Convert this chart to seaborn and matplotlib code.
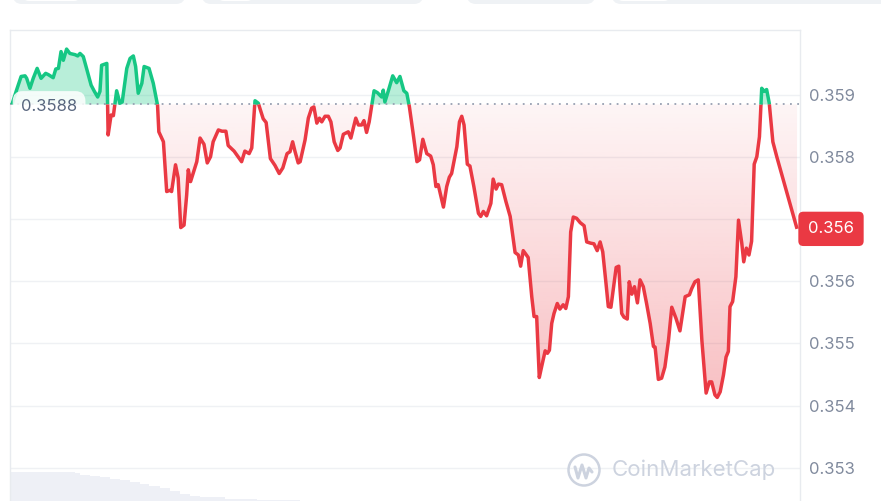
import numpy as np
import matplotlib
matplotlib.use("Agg")
import matplotlib.pyplot as plt
import seaborn as sns
import matplotlib.transforms as mtransforms
from matplotlib.colors import LinearSegmentedColormap, to_rgb
from matplotlib.patches import FancyBboxPatch, Circle
from matplotlib.path import Path
from matplotlib.lines import Line2D

# ---------------- data ----------------
hours = [
    0.00, 0.14, 0.28, 0.40, 0.45, 0.55, 0.65, 0.77, 0.89, 1.03,
    1.11, 1.26, 1.34, 1.42, 1.50, 1.57, 1.67, 1.77, 1.93, 2.01,
    2.08, 2.18, 2.28, 2.42, 2.52, 2.62, 2.69, 2.74, 2.90, 2.94,
    3.03, 3.10, 3.20, 3.30, 3.37, 3.51, 3.61, 3.71, 3.78, 3.86,
    3.97, 4.04, 4.19, 4.32, 4.45, 4.49, 4.63, 4.73, 4.83, 4.88,
    5.00, 5.08, 5.16, 5.26, 5.34, 5.39, 5.46, 5.65, 5.75, 5.87,
    5.97, 6.07, 6.15, 6.31, 6.42, 6.54, 6.61, 6.79, 7.02, 7.12,
    7.25, 7.33, 7.43, 7.53, 7.68, 7.77, 7.90, 8.04, 8.17, 8.28,
    8.41, 8.50, 8.58, 8.65, 8.75, 8.81, 8.96, 9.06, 9.16, 9.23,
    9.32, 9.40, 9.47, 9.57, 9.67, 9.75, 9.85, 9.96, 10.03, 10.13,
    10.28, 10.36, 10.51, 10.59, 10.69, 10.76, 10.84, 10.92, 11.00, 11.07,
    11.17, 11.30, 11.35, 11.40, 11.50, 11.64, 11.76, 11.86, 11.98, 12.07,
    12.15, 12.27, 12.38, 12.46, 12.56, 12.68, 12.80, 12.88, 12.96, 13.03,
    13.19, 13.29, 13.37, 13.44, 13.60, 13.68, 13.75, 13.82, 13.92, 14.00,
    14.12, 14.26, 14.33, 14.41, 14.51, 14.64, 14.71, 14.80, 14.87, 14.97,
    15.10, 15.23, 15.38, 15.48, 15.55, 15.63, 15.78, 15.89, 15.96, 16.04,
    16.12, 16.19, 16.30, 16.37, 16.43, 16.50, 16.57, 16.67, 16.75, 16.85,
    16.93, 17.01, 17.08, 17.16, 17.26, 17.37, 17.49, 17.57, 17.69, 17.79,
    17.89, 17.98, 18.06, 18.16, 18.23, 18.31, 18.38, 18.47, 18.55, 18.59,
    18.64, 18.71, 18.81, 18.87, 18.95, 19.03, 19.12, 19.20, 19.30, 19.40,
    19.51, 19.61, 19.66, 19.76, 19.86, 19.96, 20.07, 20.17, 20.30, 20.42,
    20.58, 20.71, 20.78, 20.88, 20.98, 21.09, 21.22, 21.32, 21.39, 21.49,
    21.56, 21.65, 21.75, 21.83, 21.90, 21.95, 22.03, 22.13, 22.21, 22.31,
    22.37, 22.45, 22.53, 22.61, 22.69, 22.77, 22.85, 22.92, 22.99, 23.07,
    23.15, 23.26, 23.38, 24.00,
]

prices = [
    0.35884, 0.35907, 0.35929, 0.35930, 0.35926, 0.35910, 0.35926, 0.35942, 0.35926, 0.35934,
    0.35932, 0.35927, 0.35941, 0.35942, 0.35969, 0.35955, 0.35973, 0.35966, 0.35964, 0.35962,
    0.35966, 0.35961, 0.35942, 0.35915, 0.35905, 0.35896, 0.35905, 0.35947, 0.35950, 0.35835,
    0.35867, 0.35866, 0.35906, 0.35886, 0.35888, 0.35942, 0.35958, 0.35962, 0.35945, 0.35902,
    0.35918, 0.35945, 0.35942, 0.35918, 0.35883, 0.35840, 0.35824, 0.35744, 0.35746, 0.35744,
    0.35787, 0.35766, 0.35686, 0.35690, 0.35738, 0.35779, 0.35760, 0.35792, 0.35830, 0.35820,
    0.35790, 0.35800, 0.35824, 0.35843, 0.35841, 0.35841, 0.35818, 0.35809, 0.35792, 0.35809,
    0.35805, 0.35814, 0.35890, 0.35886, 0.35861, 0.35855, 0.35797, 0.35786, 0.35773, 0.35782,
    0.35805, 0.35808, 0.35824, 0.35809, 0.35790, 0.35792, 0.35827, 0.35862, 0.35878, 0.35880,
    0.35854, 0.35862, 0.35856, 0.35865, 0.35865, 0.35856, 0.35824, 0.35810, 0.35814, 0.35836,
    0.35840, 0.35830, 0.35862, 0.35851, 0.35851, 0.35858, 0.35839, 0.35856, 0.35883, 0.35906,
    0.35903, 0.35896, 0.35907, 0.35888, 0.35905, 0.35930, 0.35919, 0.35929, 0.35906, 0.35902,
    0.35880, 0.35835, 0.35792, 0.35795, 0.35828, 0.35805, 0.35801, 0.35787, 0.35752, 0.35755,
    0.35719, 0.35752, 0.35767, 0.35773, 0.35816, 0.35856, 0.35865, 0.35851, 0.35788, 0.35785,
    0.35752, 0.35709, 0.35704, 0.35712, 0.35705, 0.35725, 0.35764, 0.35748, 0.35756, 0.35755,
    0.35728, 0.35704, 0.35646, 0.35642, 0.35624, 0.35649, 0.35638, 0.35575, 0.35543, 0.35543,
    0.35445, 0.35462, 0.35488, 0.35484, 0.35489, 0.35532, 0.35548, 0.35564, 0.35555, 0.35562,
    0.35556, 0.35575, 0.35679, 0.35703, 0.35701, 0.35694, 0.35689, 0.35663, 0.35661, 0.35660,
    0.35649, 0.35663, 0.35647, 0.35596, 0.35559, 0.35558, 0.35586, 0.35622, 0.35624, 0.35586,
    0.35548, 0.35542, 0.35539, 0.35599, 0.35579, 0.35591, 0.35565, 0.35602, 0.35591, 0.35564,
    0.35532, 0.35495, 0.35494, 0.35442, 0.35444, 0.35462, 0.35505, 0.35558, 0.35540, 0.35520,
    0.35575, 0.35578, 0.35588, 0.35599, 0.35602, 0.35505, 0.35420, 0.35438, 0.35438, 0.35417,
    0.35413, 0.35422, 0.35449, 0.35478, 0.35487, 0.35559, 0.35567, 0.35607, 0.35698, 0.35661,
    0.35631, 0.35653, 0.35642, 0.35664, 0.35788, 0.35800, 0.35832, 0.35910, 0.35905, 0.35908,
    0.35886, 0.35824, 0.35800, 0.35684,
]

open_price = 0.35884
open_label = "0.3588"
last_label = "0.356"

tick_values = [0.353, 0.354, 0.355, 0.356, 0.357, 0.358, 0.359]
tick_labels = ["0.353", "0.354", "0.355", "0.356", "", "0.358", "0.359"]

vol_hours = [-0.06, 1.93, 2.08, 2.40, 2.69, 3.00, 3.30, 3.60, 3.91, 4.20,
             4.52, 4.83, 5.14, 5.45, 5.75, 6.50, 7.50, 8.81]
vol_values = [29, 28, 26, 25, 24, 22, 21, 19, 17, 15,
              13, 10, 7, 5, 4, 2, 1, 0]

watermark = "CoinMarketCap"

# ---------------- style ----------------
GREEN = "#16c784"
RED = "#ea3943"
TEXT = "#58667e"
TICK = "#808a9d"
GRID = "#eff1f4"
FRAME = "#e8ebef"

sns.set_theme(style="white")
plt.rcParams["font.family"] = ["Inter", "DejaVu Sans"]

W, H = 881, 501
fig = plt.figure(figsize=(W / 100, H / 100), dpi=100)
fig.patch.set_facecolor("white")

L_px, R_px, T_px = 10, 800, 30
xmin, xmax = -0.06, 24.09
ymin, ymax = 0.352465, 0.360037

# volume strip
ax_vol = fig.add_axes([L_px / W, 0, (R_px - L_px) / W, 40 / H], zorder=0)
ax_vol.fill_between(vol_hours, vol_values, step="post", color="#eef0f6", lw=0)
ax_vol.set_xlim(xmin, xmax)
ax_vol.set_ylim(0, 40)
ax_vol.axis("off")

ax = fig.add_axes([L_px / W, 0, (R_px - L_px) / W, (H - T_px) / H], zorder=1)
ax.set_facecolor("none")

# ---------------- densify with baseline crossings ----------------
t = np.asarray(hours, float)
p = np.asarray(prices, float)
td, pdn = [t[0]], [p[0]]
for i in range(len(t) - 1):
    a, b = p[i] - open_price, p[i + 1] - open_price
    if a * b < 0:
        f = a / (a - b)
        td.append(t[i] + f * (t[i + 1] - t[i]))
        pdn.append(open_price)
    td.append(t[i + 1])
    pdn.append(p[i + 1])
td = np.array(td)
pdn = np.array(pdn)

# fills
ax.fill_between(td, pdn, open_price, where=pdn >= open_price,
                color=GREEN, alpha=0.30, lw=0, zorder=2)
poly = ax.fill_between(td, pdn, open_price, where=pdn <= open_price,
                       color="none", lw=0, zorder=1)
clip = Path.make_compound_path(*poly.get_paths())
r, g, b = to_rgb(RED)
cmap = LinearSegmentedColormap.from_list("redgrad", [(r, g, b, 0.05), (r, g, b, 0.32)])
grad = np.linspace(0, 1, 256).reshape(-1, 1)
im = ax.imshow(grad, extent=[xmin, xmax, p.min(), open_price], origin="upper",
               aspect="auto", cmap=cmap, zorder=1.5, interpolation="bilinear")
im.set_clip_path(clip, transform=ax.transData)

# colored line runs
mid_above = (pdn[:-1] + pdn[1:]) / 2 >= open_price
start = 0
for j in range(1, len(mid_above) + 1):
    if j == len(mid_above) or mid_above[j] != mid_above[start]:
        seg_x = td[start:j + 1]
        seg_y = pdn[start:j + 1]
        sns.lineplot(x=seg_x, y=seg_y, ax=ax, sort=False, estimator=None,
                     color=GREEN if mid_above[start] else RED, lw=2.5,
                     solid_joinstyle="round", solid_capstyle="butt", zorder=4)
        start = j

# dotted baseline
ax.axhline(open_price, color="#97a0b2", lw=1.3, ls=(0, (1, 3)), zorder=3)

# axes formatting
ax.set_xlim(xmin, xmax)
ax.set_ylim(ymin, ymax)
ax.set_xticks([])
ax.set_yticks(tick_values)
ax.set_yticklabels(tick_labels)
ax.yaxis.tick_right()
ax.tick_params(axis="y", length=0, pad=6.5, labelsize=12, labelcolor=TICK)
ax.grid(axis="y", color=GRID, lw=1)
ax.set_axisbelow(True)
ax.set_xlabel("")
ax.set_ylabel("")
for s in ["left", "top", "right"]:
    ax.spines[s].set_visible(True)
    ax.spines[s].set_color(FRAME)
    ax.spines[s].set_linewidth(1)
ax.spines["bottom"].set_visible(False)

trans = mtransforms.blended_transform_factory(ax.transAxes, ax.transData)
ax.annotate(open_label, xy=(0, open_price), xycoords=trans, xytext=(11, -2.5),
            textcoords="offset pixels", ha="left", va="center", fontsize=12,
            color=TEXT, zorder=6, annotation_clip=False,
            bbox=dict(boxstyle="round,pad=0.5,rounding_size=0.6", fc="white",
                      ec="none", alpha=0.85))
ax.annotate(last_label, xy=(1, prices[-1]), xycoords=trans, xytext=(8, 0),
            textcoords="offset pixels", ha="left", va="center", fontsize=12,
            color="white", zorder=10, annotation_clip=False,
            bbox=dict(boxstyle="round,pad=0.58,rounding_size=0.3", fc=RED, ec="none"))

# watermark
WM = "#cdd3df"
ident = mtransforms.IdentityTransform()
fig.text(612 / W, 1 - 470 / H, watermark, fontsize=16, color=WM,
         ha="left", va="center", zorder=5)
fig.add_artist(Circle((584, H - 470), 15.5, transform=ident, fill=False,
                      ec=WM, lw=1.8, zorder=5))
wx = [575, 578, 582, 586, 589, 592]
wy = [-3, 8, -5, 8, -2, 2]
fig.add_artist(Line2D(wx, [H - 470 - v for v in wy], transform=ident,
                      color=WM, lw=2.2, solid_joinstyle="round", zorder=5))

# top button strip fragments
for (x0, x1) in [(13, 185), (202, 423), (467, 595), (612, 895)]:
    fig.add_artist(FancyBboxPatch((x0, H - 4), x1 - x0, 30,
                                  boxstyle="round,pad=0,rounding_size=9",
                                  transform=ident, fc="#eff2f5", ec="none"))
for (x0, x1) in [(23, 80), (218, 253), (617, 670)]:
    fig.add_artist(FancyBboxPatch((x0, H - 1), x1 - x0, 20,
                                  boxstyle="round,pad=0,rounding_size=6",
                                  transform=ident, fc="white", ec="none"))

fig.savefig("out.png", dpi=100)
